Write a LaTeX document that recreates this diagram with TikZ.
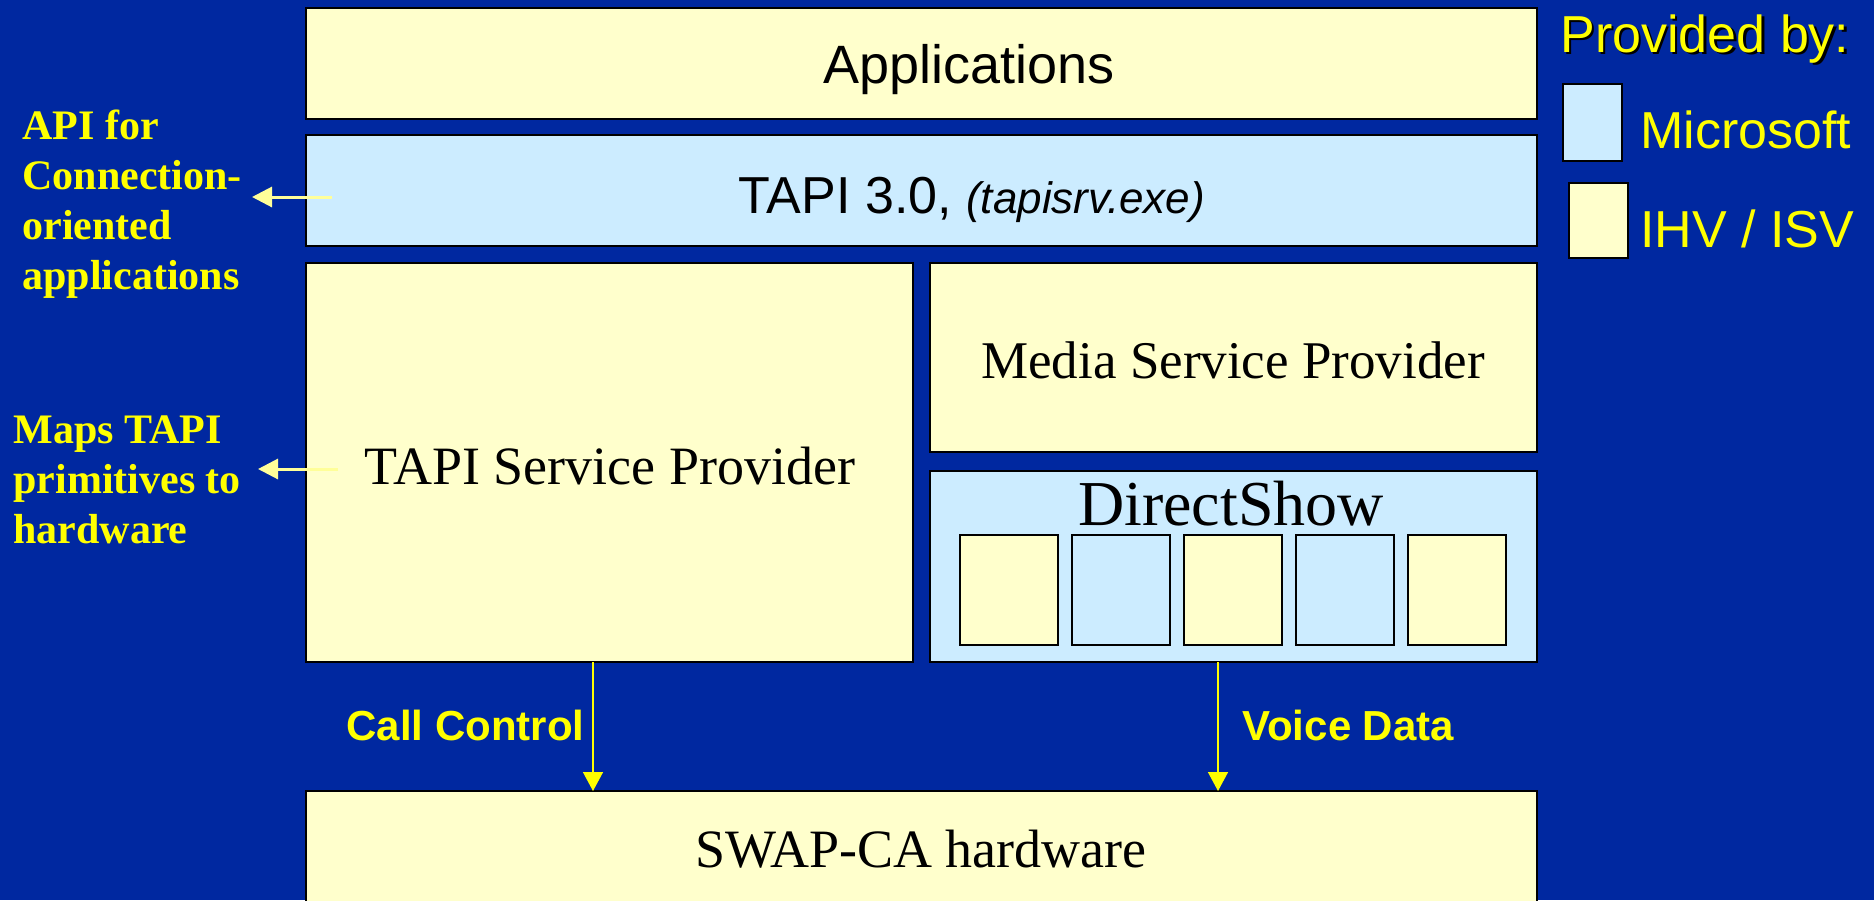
\documentclass[tikz,border=0pt]{standalone}
\usepackage{fontspec}
\newfontfamily\arialf{Liberation Sans}
\newfontfamily\seriff{Liberation Serif}
\usetikzlibrary{arrows.meta}
\definecolor{bg}{RGB}{0,40,160}
\definecolor{lyel}{RGB}{255,255,204}
\definecolor{lblue}{RGB}{204,236,255}
\definecolor{ylw}{RGB}{255,255,0}
\definecolor{paleylw}{RGB}{255,255,153}
\begin{document}
\begin{tikzpicture}[x=0.5pt,y=-0.5pt,
 layer/.style={draw=black, line width=1.2pt, inner sep=0pt, outer sep=0pt},
 yb/.style={layer, fill=lyel},
 bb/.style={layer, fill=lblue},
 sanslbl/.style={font=\arialf\fontsize{26}{31}\selectfont, inner sep=0pt, anchor=base},
 seriflbl/.style={font=\seriff\fontsize{26.5}{31}\selectfont, inner sep=0pt, anchor=base},
 note/.style={font=\seriff\bfseries\fontsize{21}{25}\selectfont, text=ylw, align=left, inner sep=0pt, anchor=north west},
 flowlbl/.style={font=\arialf\bfseries\fontsize{21}{26}\selectfont, text=ylw, inner sep=0pt, anchor=base west},
 ptr/.style={draw=paleylw, line width=1.5pt, -{Triangle[length=10pt,width=10pt,fill=paleylw]}},
 flow/.style={draw=ylw, line width=0.75pt, -{Triangle[length=9.5pt,width=10pt,fill=ylw]}},
 legend/.style={font=\arialf\fontsize{26}{31}\selectfont, text=ylw, inner sep=0pt, anchor=base west},
]
\useasboundingbox (0,0) rectangle (1874,900);
\clip (0,0) rectangle (1874,900);
\fill[bg] (0,0) rectangle (1874,900);

% layers
\node[yb, minimum width=615.5pt, minimum height=55.5pt] (apps) at (921.5,63.5) {};
\node[bb, minimum width=615.5pt, minimum height=55.5pt] (tapi) at (921.5,190.5) {};
\node[yb, minimum width=303.5pt, minimum height=199.5pt] (tsp) at (609.5,462.5) {};
\node[yb, minimum width=303.5pt, minimum height=94.5pt] (msp) at (1233.5,357.5) {};
\node[bb, minimum width=303.5pt, minimum height=95.5pt] (ds) at (1233.5,566.5) {};
\foreach \i/\c in {0/yb,1/bb,2/yb,3/bb,4/yb}
  \node[\c, minimum width=49pt, minimum height=55pt] (f\i) at ({1009+112*\i},590) {};
\node[yb, minimum width=615.5pt, minimum height=79.5pt] (swap) at (921.5,870.5) {};

% texts
\node[sanslbl, font=\arialf\fontsize{27}{32}\selectfont] (appst) at (969,83) {Applications};
\node[sanslbl] (tapit) at (972,213) {TAPI 3.0, {\fontsize{22}{26}\selectfont\itshape(tapisrv.exe)}};
\node[seriflbl, font=\seriff\fontsize{27}{32}\selectfont] (tspt) at (610,484) {TAPI Service Provider};
\node[seriflbl] (mspt) at (1233,378) {Media Service Provider};
\node[seriflbl, font=\seriff\fontsize{32}{38}\selectfont] (dst) at (1231,525) {DirectShow};
\node[seriflbl, font=\seriff\fontsize{27}{32}\selectfont] (swapt) at (921,867) {SWAP-CA hardware};

% left notes
\node[note] (n1) at (22,110) {API for\\Connection-\\oriented\\applications};
\node[note] (n2) at (13,415) {Maps TAPI\\primitives to\\hardware};
\coordinate (p1s) at (332,197); \coordinate (p1e) at (252,197);
\coordinate (p2s) at (338,469); \coordinate (p2e) at (258,469);
\draw[ptr] (p1s) -- (p1e);
\draw[ptr] (p2s) -- (p2e);

% flows
\coordinate (ccx) at (593,720);
\coordinate (vdx) at (1218,720);
\draw[flow] (ccx |- tsp.south) -- (ccx |- swap.north);
\draw[flow] (vdx |- ds.south) -- (vdx |- swap.north);
\node[flowlbl] (ccl) at (346,740) {Call Control};
\node[flowlbl] (vdl) at (1242,740) {Voice Data};

% legend
\node[legend, text=black] (provsh) at (1562.5,54.5) {Provided by:};
\node[legend] (prov) at (1560,52) {Provided by:};
\node[bb, minimum width=29.5pt, minimum height=38.5pt] (legms) at (1592.5,122.5) {};
\node[legend] (msl) at (1640,148) {Microsoft};
\node[yb, minimum width=29.5pt, minimum height=37.5pt] (legihv) at (1598.5,220.5) {};
\node[legend] (ihvl) at (1640,247) {IHV / ISV};
\end{tikzpicture}
\end{document}
